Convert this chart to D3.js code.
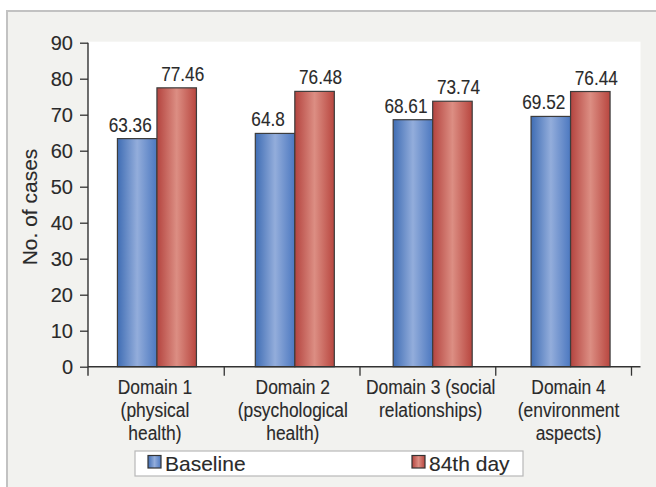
<!DOCTYPE html>
<html>
<head>
<meta charset="utf-8">
<script src="https://cdn.jsdelivr.net/npm/d3@7"></script>
<style>
  html, body { margin: 0; padding: 0; background: #fff; }
  svg { display: block; font-family: "Liberation Sans", Arial, sans-serif; }
  svg text { stroke: #2a2a2a; stroke-width: 0.12px; }
</style>
</head>
<body>
<svg id="chart" width="656" height="487"></svg>
<script>
// Domains of the quality-of-life score and the two assessment points
const categories = ["Domain 1", "Domain 2", "Domain 3", "Domain 4"];
const categoryLines = [
  ["Domain 1", "(physical", "health)"],
  ["Domain 2", "(psychological", "health)"],
  ["Domain 3 (social", "relationships)"],
  ["Domain 4", "(environment", "aspects)"]
];
const seriesNames = ["Baseline", "84th day"];
const baseline = [63.36, 64.8, 68.61, 69.52];
const day84 = [77.46, 76.48, 73.74, 76.44];
const yTicks = [0, 10, 20, 30, 40, 50, 60, 70, 80, 90];
const yTitle = "No. of cases";

const svg = d3.select("#chart");
const W = 656, H = 487;
const plotLeft = 88, plotRight = 639.5, plotTop = 42.7, plotBottom = 366.7;

// gradients giving the bars their rounded, cylinder-like shading
const defs = svg.append("defs");
function cylinder(id, stops) {
  const g = defs.append("linearGradient").attr("id", id)
    .attr("x1", "0%").attr("x2", "100%").attr("y1", "0%").attr("y2", "0%");
  stops.forEach(([o, c]) => g.append("stop").attr("offset", o).attr("stop-color", c));
}
cylinder("gBlue", [["0%", "#3f6db4"], ["50%", "#93addb"], ["100%", "#4c78c0"]]);
cylinder("gRed", [["0%", "#b4443f"], ["50%", "#dc8e83"], ["100%", "#b8463f"]]);
const fills = ["url(#gBlue)", "url(#gRed)"];

// page frame
svg.append("rect").attr("x", 0).attr("y", 0).attr("width", W).attr("height", H).attr("fill", "#ffffff");
svg.append("rect").attr("x", 7).attr("y", 11).attr("width", W - 7).attr("height", H - 11)
  .attr("fill", "#f2f2ef");
svg.append("path").attr("d", `M7,${H} V11 H${W}`).attr("fill", "none")
  .attr("stroke", "#c2c2c2").attr("stroke-width", 2);

// plotting area
svg.append("rect").attr("x", plotLeft).attr("y", plotTop - 1).attr("width", plotRight - plotLeft + 1)
  .attr("height", plotBottom - plotTop + 1).attr("fill", "#ffffff");

const x = d3.scaleBand().domain(categories).range([plotLeft, plotRight]).paddingInner(0).paddingOuter(0);
const x1 = d3.scaleBand().domain(seriesNames).range([0, x.bandwidth()]).paddingInner(0).paddingOuter(0.745);
const y = d3.scaleLinear().domain([0, 90]).range([plotBottom, plotTop]);
// category separators along the x axis
const sep = d3.scaleLinear().domain([0, 4]).range([plotLeft, 631]);

const rows = categories.map((c, i) => ({ cat: c, vals: [baseline[i], day84[i]] }));

// bars
const groups = svg.append("g").selectAll("g").data(rows).join("g")
  .attr("transform", d => `translate(${x(d.cat)},0)`);
groups.selectAll("rect").data(d => d.vals.map((v, j) => ({ v, j })))
  .join("rect")
  .attr("x", d => x1(seriesNames[d.j]))
  .attr("y", d => y(d.v))
  .attr("width", x1.bandwidth())
  .attr("height", d => y(0) - y(d.v))
  .attr("fill", d => fills[d.j])
  .attr("stroke", "#3c3c3c").attr("stroke-width", 1.2);

// value labels (narrow lettering)
const labelShift = [-7, 6];
groups.selectAll("text.val").data(d => d.vals.map((v, j) => ({ v, j })))
  .join("text").attr("class", "val")
  .attr("transform", d => `translate(${x1(seriesNames[d.j]) + x1.bandwidth() / 2 + labelShift[d.j]},${y(d.v) - 7}) scale(0.86,1)`)
  .attr("text-anchor", "middle")
  .attr("font-size", 20).attr("fill", "#2a2a2a")
  .text(d => String(d.v));

// y axis
const yAxis = svg.append("g").attr("transform", `translate(${plotLeft},0)`)
  .call(d3.axisLeft(y).tickValues(yTicks).tickSize(8).tickPadding(7).tickSizeOuter(0));
yAxis.select(".domain").remove();
yAxis.selectAll(".tick line").attr("stroke", "#333").attr("stroke-width", 1.3);
yAxis.selectAll(".tick text").attr("font-size", 20).attr("fill", "#2a2a2a")
  .attr("font-family", "'Liberation Sans', Arial, sans-serif");
svg.append("line").attr("x1", plotLeft).attr("x2", plotLeft).attr("y1", plotTop).attr("y2", plotBottom + 9)
  .attr("stroke", "#333").attr("stroke-width", 1.4);

// x axis
svg.append("line").attr("x1", plotLeft).attr("x2", plotRight + 1).attr("y1", plotBottom).attr("y2", plotBottom)
  .attr("stroke", "#333").attr("stroke-width", 1.4);
const xAxis = svg.append("g").attr("transform", `translate(0,${plotBottom})`)
  .call(d3.axisBottom(sep).tickValues([1, 2, 3, 4]).tickSize(9).tickFormat(""));
xAxis.select(".domain").remove();
xAxis.selectAll(".tick line").attr("stroke", "#333").attr("stroke-width", 1.3);

// category labels
const catG = svg.append("g").selectAll("g").data(categories).join("g")
  .attr("transform", d => `translate(${x(d) + x.bandwidth() / 2 - 2},0)`);
catG.selectAll("text").data((d, i) => categoryLines[i].map((t, k) => ({ t, k })))
  .join("text")
  .attr("transform", d => `translate(0,${394 + d.k * 23}) scale(0.87,1)`)
  .attr("text-anchor", "middle").attr("font-size", 20).attr("fill", "#2a2a2a")
  .text(d => d.t);

// y axis title
svg.append("text")
  .attr("transform", `translate(37,${207}) rotate(-90)`)
  .attr("text-anchor", "middle").attr("font-size", 21).attr("fill", "#2a2a2a")
  .text(yTitle);

// legend
const lg = svg.append("g");
lg.append("rect").attr("x", 135).attr("y", 451).attr("width", 388).attr("height", 25)
  .attr("fill", "#ffffff").attr("stroke", "#b8b8b8").attr("stroke-width", 1.2);
const legendX = [148, 412];
seriesNames.forEach((s, i) => {
  lg.append("rect").attr("x", legendX[i]).attr("y", 455.5).attr("width", 13).attr("height", 12.5)
    .attr("fill", fills[i]).attr("stroke", "#333").attr("stroke-width", 1.2);
  lg.append("text").attr("x", legendX[i] + 17).attr("y", 470.5)
    .attr("font-size", 21).attr("fill", "#2a2a2a").text(s);
});
</script>
</body>
</html>
